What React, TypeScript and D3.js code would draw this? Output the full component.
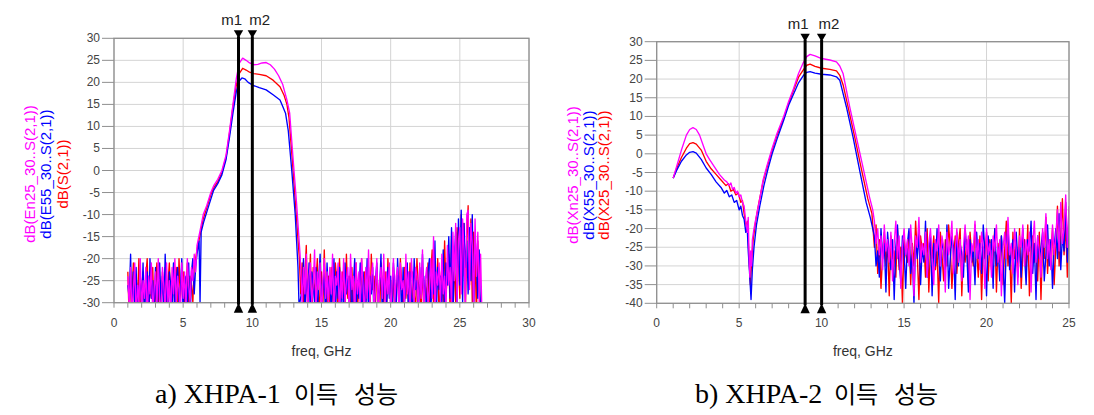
import React from 'react';
import * as d3 from 'd3';

type Pt = [number, number];

// ---------- Shared tick definitions ----------
const xTicksA = [0, 5, 10, 15, 20, 25, 30];
const yTicksA = [-30, -25, -20, -15, -10, -5, 0, 5, 10, 15, 20, 25, 30];
const xTicksB = [0, 5, 10, 15, 20, 25];
const yTicksB = [-40, -35, -30, -25, -20, -15, -10, -5, 0, 5, 10, 15, 20, 25, 30];

const markerFreqs = [9, 10];
const markerNames = ['m1', 'm2'];

// ---------- Chart A (XHPA-1) ----------
const legendA = ['dB(En25_30..S(2,1))', 'dB(E55_30..S(2,1))', 'dB(S(2,1))'];
const captionA = ['a) XHPA-1', '이득', '성능'];

// low band noise: 1.0 .. 5.9 GHz (0.1 GHz sampling)
const aLowStart = 1.0;
const aLowMag = [-24,-31,-22,-33,-27,-21,-34,-26,-30,-20, -32,-25,-29,-22,-35,-24,-28,-21,-33,-27, -23,-31,-20,-29,-34,-22,-26,-32,-21,-30, -25,-33,-22,-28,-20,-31,-24,-27,-33,-21, -29,-23,-32,-20,-26,-30,-22,-25,-19,-23];
const aLowBlue = [-26,-29,-19,-34,-23,-30,-22,-35,-27,-24, -31,-21,-33,-26,-23,-36,-20,-29,-25,-32, -22,-34,-27,-21,-30,-24,-33,-19,-28,-35, -23,-26,-31,-21,-34,-25,-22,-30,-27,-20, -33,-26,-24,-31,-21,-35,-23,-20,-28,-22];
const aLowRed = [-23,-34,-25,-28,-21,-32,-24,-30,-20,-35, -27,-23,-31,-24,-20,-33,-26,-29,-22,-34, -28,-21,-30,-25,-33,-23,-29,-22,-35,-26, -21,-30,-27,-24,-32,-22,-34,-20,-29,-25, -23,-31,-28,-21,-33,-24,-26,-30,-21,-20];

// pass band
const aMidMag: Pt[] = [[6.0,-17],[6.2,-14],[6.45,-10],[6.7,-8],[7.0,-5],[7.2,-3.5],[7.5,-2],[7.8,0],[8.1,3.5],[8.35,9],[8.6,15],[8.85,21],[9.05,24.3],[9.3,25.5],[9.55,25],[9.8,24.4],[10.1,24],[10.4,24.1],[10.7,24.4],[11.0,24.5],[11.3,24],[11.6,23],[11.9,21.5],[12.2,19.5],[12.5,16],[12.7,13],[12.95,2.5],[13.2,-7.5],[13.45,-19],[13.55,-26]];
const aMidRed: Pt[] = [[6.0,-18],[6.2,-15],[6.45,-11],[6.7,-8.5],[7.0,-5.5],[7.2,-4],[7.5,-2.5],[7.8,-0.5],[8.1,3],[8.35,8.5],[8.6,14.5],[8.85,19.5],[9.05,22],[9.3,23.2],[9.55,22.8],[9.8,22.3],[10.1,22],[10.5,21.8],[11.0,21.5],[11.5,20.5],[12.0,19],[12.3,17],[12.5,15],[12.65,12],[12.9,2],[13.15,-9],[13.4,-20],[13.5,-28]];
const aMidBlue: Pt[] = [[6.0,-19],[6.15,-16],[6.22,-30],[6.3,-14],[6.5,-11.5],[6.75,-9],[7.0,-6.5],[7.2,-4.5],[7.5,-3],[7.8,-1],[8.1,2.5],[8.35,7.5],[8.6,13],[8.85,18],[9.05,20.3],[9.25,21],[9.45,20.8],[9.7,20],[10.0,19.4],[10.5,18.8],[11.0,18.3],[11.5,17.2],[12.0,16],[12.2,14.5],[12.4,13],[12.6,9],[12.85,0],[13.1,-10],[13.3,-22],[13.38,-31]];

// high band noise: 13.6 .. 26.6 GHz
const aHighStart = 13.6;
const aHighMag = [-31,-22,-28,-19,-33,-24,-21,-30,-26,-18, -32,-23,-27,-21,-34,-25,-20,-29,-23,-31, -22,-28,-19,-33,-24,-26,-21,-35,-23,-29, -20,-30,-25,-22,-32,-19,-27,-24,-33,-21, -28,-23,-31,-20,-26,-34,-22,-29,-18,-30, -24,-21,-32,-27,-20,-33,-25,-22,-29,-19, -31,-23,-28,-21,-35,-26,-20,-30,-24,-22, -33,-21,-27,-25,-31,-19,-28,-23,-34,-20, -26,-30,-22,-24,-32,-21,-29,-18,-33,-25, -22,-31,-27,-20,-29,-15,-34,-23,-26,-21, -30,-19,-28,-24,-32,-17,-26,-22,-31,-14, -25,-12,-30,-16,-13,-28,-11,-18,-31,-10, -9,-27,-12,-17,-32,-11,-24,-14,-30,-19, -33];
const aHighBlue = [-27,-20,-33,-24,-29,-21,-35,-23,-26,-30, -22,-34,-25,-19,-31,-27,-23,-36,-21,-28, -24,-32,-26,-20,-35,-23,-29,-22,-31,-25, -33,-21,-28,-24,-30,-22,-36,-26,-20,-32, -25,-29,-21,-34,-23,-27,-31,-20,-33,-24, -28,-22,-35,-25,-21,-30,-27,-19,-34,-23, -26,-32,-22,-29,-24,-36,-21,-27,-31,-20, -28,-24,-33,-22,-30,-26,-21,-35,-23,-29, -32,-20,-27,-25,-34,-22,-28,-19,-30,-24, -35,-23,-20,-31,-26,-28,-16,-33,-22,-27, -24,-30,-18,-33,-21,-26,-15,-29,-13,-34, -20,-14,-31,-11,-26,-9,-30,-12,-22,-16, -28,-13,-25,-10,-33,-15,-21,-29,-18,-34, -36];
const aHighRed = [-21,-30,-24,-17,-32,-26,-19,-34,-22,-28, -25,-20,-33,-27,-23,-31,-18,-29,-35,-24, -30,-22,-27,-34,-21,-25,-32,-20,-28,-23, -26,-33,-19,-29,-24,-31,-22,-34,-27,-21, -32,-25,-28,-20,-35,-23,-30,-26,-22,-33, -19,-27,-24,-31,-22,-29,-34,-21,-26,-30, -23,-33,-20,-28,-25,-31,-22,-34,-27,-24, -30,-20,-26,-33,-22,-29,-24,-31,-21,-35, -23,-28,-32,-20,-27,-25,-33,-22,-30,-26, -29,-21,-34,-24,-18,-31,-23,-27,-20,-33, -26,-22,-30,-16,-28,-24,-19,-33,-15,-27, -23,-30,-13,-20,-29,-10,-24,-12,-32,-17, -8,-26,-11,-30,-14,-19,-33,-16,-27,-31, -34];

// ---------- Chart B (XHPA-2) ----------
const legendB = ['dB(Xn25_30..S(2,1))', 'dB(X55_30..S(2,1))', 'dB(X25_30..S(2,1))'];
const captionB = ['b) XHPA-2', '이득', '성능'];

const bMidMag: Pt[] = [[1.0,-6.5],[1.2,-3.5],[1.5,1],[1.8,5],[2.0,6.5],[2.2,7],[2.4,6.5],[2.6,5],[2.8,2.5],[3.0,0],[3.2,-1.5],[3.5,-3.5],[3.8,-5.5],[4.1,-7],[4.25,-7.5],[4.4,-8.5],[4.5,-7.8],[4.6,-9.5],[4.7,-9],[4.8,-10.5],[4.9,-10],[5.0,-11.5],[5.1,-11],[5.2,-13],[5.3,-14],[5.4,-18],[5.5,-21],[5.55,-17],[5.6,-27],[5.65,-33],[5.7,-26],[5.75,-30],[5.8,-23],[5.9,-20],[6.05,-16.5],[6.25,-12],[6.45,-7],[6.7,-3],[7.0,1.5],[7.3,5.5],[7.7,10],[8.0,14],[8.3,17.5],[8.6,21.5],[8.9,24.5],[9.1,26],[9.3,26.6],[9.6,26.2],[10.0,25.5],[10.5,25.1],[10.9,24.6],[11.1,23.5],[11.3,21.5],[11.7,12.6],[12.1,4.6],[12.5,-3.4],[12.9,-11.5],[13.1,-15]];
const bMidRed: Pt[] = [[1.0,-6.5],[1.2,-4],[1.5,-1],[1.8,1.5],[2.0,2.7],[2.2,3],[2.4,2.6],[2.7,1],[3.0,-2],[3.3,-4],[3.6,-5.5],[3.9,-7],[4.2,-8.5],[4.35,-8],[4.5,-10],[4.65,-9.5],[4.8,-11],[4.95,-10.5],[5.1,-13],[5.2,-12.5],[5.3,-16],[5.45,-20],[5.5,-18],[5.6,-28],[5.68,-35],[5.75,-29],[5.85,-23],[6.0,-18],[6.2,-13],[6.45,-7.5],[6.7,-3.5],[7.0,1],[7.3,5],[7.7,9.5],[8.0,13.5],[8.3,17],[8.6,20.5],[8.9,22.5],[9.1,23.7],[9.3,24],[9.6,23.4],[10.0,22.9],[10.5,22.6],[10.9,22.2],[11.1,21],[11.3,18.5],[11.6,12.6],[12.0,4.6],[12.4,-3.8],[12.8,-12],[13.05,-16]];
const bMidBlue: Pt[] = [[1.0,-6.5],[1.2,-4.5],[1.5,-2],[1.8,-0.3],[2.0,0.4],[2.2,0.6],[2.4,0.2],[2.7,-1.5],[3.0,-3.8],[3.3,-5.5],[3.6,-7.5],[3.9,-9],[4.1,-10.5],[4.25,-9.8],[4.4,-11.5],[4.55,-11],[4.7,-13],[4.85,-12.5],[5.0,-15],[5.1,-14],[5.2,-16.5],[5.3,-17.5],[5.4,-21],[5.48,-19],[5.55,-26],[5.62,-31],[5.72,-39],[5.8,-31],[5.9,-25],[6.05,-19],[6.25,-14],[6.5,-8.5],[6.75,-4],[7.0,0],[7.3,4],[7.7,9],[8.0,13],[8.3,16],[8.6,19],[8.9,21],[9.1,21.8],[9.3,22],[9.6,21.6],[10.0,21.3],[10.5,21.1],[10.9,20.6],[11.1,19.7],[11.5,12.6],[11.9,4.6],[12.3,-4.3],[12.7,-13],[12.95,-17]];

// noise: 13.2 .. 25.0 GHz
const bHighStart = 13.2;
const bHighMag = [-18,-24,-20,-27,-22,-31,-19,-26,-23,-29, -21,-34,-24,-18,-28,-22,-36,-25,-20,-27, -23,-30,-19,-26,-38,-22,-25,-17,-29,-24, -27,-21,-33,-24,-20,-28,-35,-23,-26,-19, -30,-22,-25,-37,-21,-27,-24,-18,-32,-26, -20,-29,-23,-34,-25,-19,-27,-22,-39,-24, -26,-18,-28,-23,-31,-21,-25,-36,-20,-27, -24,-33,-22,-26,-19,-29,-23,-38,-25,-21, -28,-17,-27,-24,-32,-20,-26,-35,-22,-25, -19,-30,-23,-27,-21,-37,-24,-18,-29,-22, -26,-33,-20,-25,-16,-28,-23,-31,-19,-27, -22,-15,-26,-13,-24,-20,-11,-25,-14];
const bHighBlue = [-22,-30,-26,-33,-20,-28,-24,-37,-21,-27, -31,-23,-39,-25,-19,-29,-34,-22,-26,-36, -24,-20,-32,-27,-40,-23,-28,-21,-35,-25, -29,-18,-33,-26,-22,-38,-24,-30,-20,-27, -34,-23,-26,-31,-19,-36,-28,-22,-25,-39, -21,-30,-24,-27,-33,-20,-26,-37,-23,-29, -25,-35,-21,-28,-24,-32,-19,-26,-38,-22, -27,-23,-36,-20,-30,-25,-34,-22,-28,-40, -24,-19,-31,-26,-23,-37,-21,-29,-25,-33, -20,-27,-35,-23,-26,-18,-32,-24,-39,-22, -28,-25,-21,-34,-27,-19,-30,-23,-36,-25, -20,-28,-16,-31,-22,-26,-13,-29,-18];
const bHighRed = [-25,-19,-32,-23,-36,-27,-21,-30,-24,-38, -22,-28,-26,-33,-20,-31,-25,-40,-23,-27, -29,-21,-35,-24,-30,-18,-27,-39,-22,-26, -24,-33,-20,-37,-25,-28,-22,-31,-26,-40, -21,-27,-34,-23,-30,-19,-25,-36,-28,-22, -32,-24,-20,-38,-26,-29,-23,-35,-21,-27, -30,-19,-26,-33,-22,-39,-25,-28,-21,-34, -23,-31,-27,-20,-37,-24,-29,-22,-35,-26, -18,-30,-25,-40,-21,-28,-24,-33,-20,-36, -27,-23,-31,-19,-38,-25,-22,-29,-26,-34, -21,-39,-24,-28,-17,-32,-23,-27,-20,-35, -25,-14,-30,-22,-12,-27,-19,-33,-15];

// ---------- helpers ----------
const STEP = 0.1;
const sampled = (start: number, values: number[]): Pt[] =>
  values.map((v, i) => [Math.round((start + i * STEP) * 100) / 100, v] as Pt);

const MAG = '#ff00ff';
const BLUE = '#0000ff';
const RED = '#ff0000';

const seriesA = [
  { color: RED, pts: [...sampled(aLowStart, aLowRed), ...aMidRed, ...sampled(aHighStart, aHighRed)] },
  { color: BLUE, pts: [...sampled(aLowStart, aLowBlue), ...aMidBlue, ...sampled(aHighStart, aHighBlue)] },
  { color: MAG, pts: [...sampled(aLowStart, aLowMag), ...aMidMag, ...sampled(aHighStart, aHighMag)] },
];
const seriesB = [
  { color: RED, pts: [...bMidRed, ...sampled(bHighStart, bHighRed)] },
  { color: BLUE, pts: [...bMidBlue, ...sampled(bHighStart, bHighBlue)] },
  { color: MAG, pts: [...bMidMag, ...sampled(bHighStart, bHighMag)] },
];

interface Cfg {
  id: string;
  xDomain: [number, number];
  yDomain: [number, number];
  left: number; right: number; top: number; bottom: number;
  xTicks: number[]; yTicks: number[];
  series: { color: string; pts: Pt[] }[];
  legend: string[];
  legendX: number[];
  legendY: number;
  caption: string[];
  captionX: number;
}

const cfgA: Cfg = {
  id: 'A', xDomain: [0, 30], yDomain: [-30, 30],
  left: 114, right: 529, top: 38.3, bottom: 302.7,
  xTicks: xTicksA, yTicks: yTicksA, series: seriesA,
  legend: legendA, legendX: [29.5, 45.5, 62], legendY: 174,
  caption: captionA, captionX: 155,
};
const cfgB: Cfg = {
  id: 'B', xDomain: [0, 25], yDomain: [-40, 30],
  left: 656.7, right: 1069, top: 41.7, bottom: 303.3,
  xTicks: xTicksB, yTicks: yTicksB, series: seriesB,
  legend: legendB, legendX: [572.5, 588.5, 603.5], legendY: 175,
  caption: captionB, captionX: 695,
};

const legendColors = [MAG, BLUE, RED];

function Chart({ cfg }: { cfg: Cfg }) {
  const x = d3.scaleLinear().domain(cfg.xDomain).range([cfg.left, cfg.right]);
  const y = d3.scaleLinear().domain(cfg.yDomain).range([cfg.bottom, cfg.top]);
  const line = d3.line<Pt>().x((d) => x(d[0])).y((d) => y(d[1]));
  const minor = d3.range(cfg.xDomain[0], cfg.xDomain[1] + 0.001, 1);
  const clipId = 'clip' + cfg.id;
  const tickFont = "'Liberation Sans', Arial, sans-serif";
  return (
    <g>
      <defs>
        <clipPath id={clipId}>
          <rect x={cfg.left} y={cfg.top} width={cfg.right - cfg.left} height={cfg.bottom - cfg.top} />
        </clipPath>
      </defs>
      {/* grid */}
      {cfg.yTicks.map((t) => (
        <line key={'gy' + t} x1={cfg.left} x2={cfg.right} y1={y(t)} y2={y(t)} stroke="#d4d4d4" strokeWidth={1} />
      ))}
      {cfg.xTicks.map((t) => (
        <line key={'gx' + t} x1={x(t)} x2={x(t)} y1={cfg.top} y2={cfg.bottom} stroke="#d4d4d4" strokeWidth={1} />
      ))}
      {/* data */}
      <g clipPath={`url(#${clipId})`}>
        {cfg.series.map((s, i) => (
          <path key={i} d={line(s.pts) || ''} fill="none" stroke={s.color} strokeWidth={1.35} strokeLinejoin="round" />
        ))}
      </g>
      {/* frame */}
      <rect x={cfg.left} y={cfg.top} width={cfg.right - cfg.left} height={cfg.bottom - cfg.top} fill="none" stroke="#8f8f8f" strokeWidth={1.3} />
      {/* y ticks */}
      {cfg.yTicks.map((t) => (
        <g key={'yt' + t}>
          <line x1={cfg.left - 12} x2={cfg.left} y1={y(t)} y2={y(t)} stroke="#8f8f8f" strokeWidth={1} />
          <text x={cfg.left - 14} y={y(t)} textAnchor="end" dominantBaseline="central" fontFamily={tickFont} fontSize={12} fill="#444">{t}</text>
        </g>
      ))}
      {/* x ticks */}
      {minor.map((t) => (
        <line key={'xm' + t} x1={x(t)} x2={x(t)} y1={cfg.bottom} y2={cfg.bottom + 5} stroke="#8f8f8f" strokeWidth={1} />
      ))}
      {cfg.xTicks.map((t) => (
        <text key={'xt' + t} x={x(t)} y={323} textAnchor="middle" dominantBaseline="central" fontFamily={tickFont} fontSize={12} fill="#444">{t}</text>
      ))}
      <text x={(cfg.left + cfg.right) / 2} y={356} textAnchor="middle" fontFamily={tickFont} fontSize={14} fill="#333">freq, GHz</text>
      {/* markers */}
      {markerFreqs.map((f, i) => {
        const mx = x(f);
        return (
          <g key={'mk' + i}>
            <line x1={mx} x2={mx} y1={cfg.top - 2} y2={cfg.bottom + 2} stroke="#000" strokeWidth={3} />
            <path d={`M${mx - 4.7},${cfg.top - 8} L${mx + 4.7},${cfg.top - 8} L${mx},${cfg.top} Z`} fill="#000" />
            <path d={`M${mx - 4.7},${cfg.bottom + 10} L${mx + 4.7},${cfg.bottom + 10} L${mx},${cfg.bottom} Z`} fill="#000" />
            <text x={i === 0 ? mx + 3.5 : mx - 3} y={cfg.top - 13} textAnchor={i === 0 ? 'end' : 'start'} fontFamily={tickFont} fontSize={15} fill="#222">{markerNames[i]}</text>
          </g>
        );
      })}
      {/* legend (rotated) */}
      {cfg.legend.map((l, i) => (
        <text key={'lg' + i} transform={`translate(${cfg.legendX[i]},${cfg.legendY}) rotate(-90)`} textAnchor="middle" dominantBaseline="central" fontFamily={tickFont} fontSize={15} fill={legendColors[i]}>{l}</text>
      ))}
      {/* caption */}
      <text x={cfg.captionX} y={403} fill="#000">
        <tspan fontFamily="'Liberation Serif', 'Times New Roman', serif" fontSize={28}>{cfg.caption[0] + ' '}</tspan>
        <tspan x={cfg.captionX + 139} fontFamily="'Noto Sans CJK KR', sans-serif" fontSize={24}>{cfg.caption[1] + ' '}</tspan>
        <tspan x={cfg.captionX + 199} fontFamily="'Noto Sans CJK KR', sans-serif" fontSize={24}>{cfg.caption[2]}</tspan>
      </text>
    </g>
  );
}

export default function App() {
  return (
    <svg width={1094} height={415} style={{ position: 'absolute', left: 0, top: 0, background: '#fff' }}>
      <rect x={0} y={0} width={1094} height={415} fill="#fff" />
      <Chart cfg={cfgA} />
      <Chart cfg={cfgB} />
    </svg>
  );
}
